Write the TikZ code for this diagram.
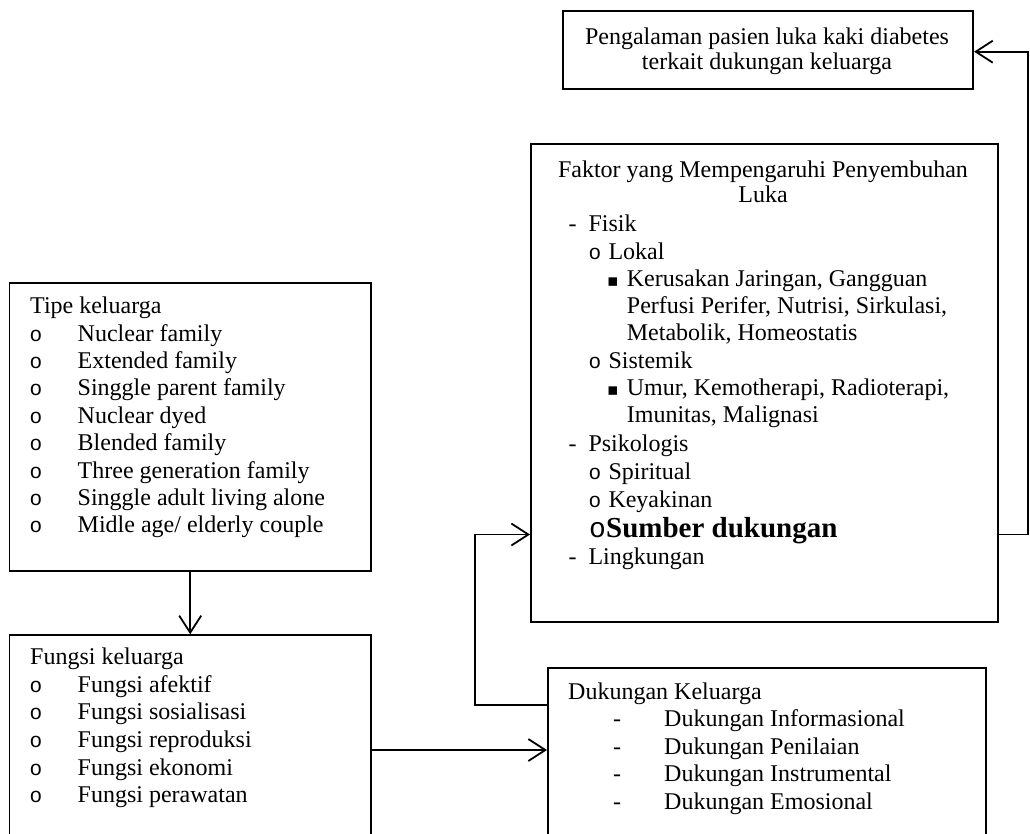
\documentclass[tikz,border=0pt]{standalone}
\usepackage{fontspec}
\setmainfont{Liberation Serif}[BoldFont={Liberation Serif Bold}]
\newfontfamily\monof{Liberation Mono}
\newfontfamily\symf{DejaVu Sans}
\usetikzlibrary{arrows.meta}
\begin{document}
\begin{tikzpicture}[x=1pt,y=-1pt,
  box/.style={draw, line width=1.8pt, inner sep=0pt, anchor=north west},
  txt/.style={inner sep=0pt, anchor=base west, font=\fontsize{24}{27}\selectfont},
  ctxt/.style={inner sep=0pt, anchor=base, font=\fontsize{24}{27}\selectfont},
  bul/.style={inner sep=0pt, anchor=base, font=\fontsize{21}{27}\monof},
  sbul/.style={inner sep=0pt, anchor=base, font=\fontsize{21}{27}\monof},
  sq/.style={inner sep=0pt, anchor=base, font=\fontsize{17}{20}\symf},
  conn/.style={line width=1.8pt},
  arr/.style={conn, -{Straight Barb[length=17pt,width=22pt,line width=1.8pt]}},
]
\useasboundingbox (0,0) rectangle (1030,833);
\clip (0,0) rectangle (1030,833);

% boxes
\node[box, minimum width=410pt, minimum height=77.7pt] (top) at (562.3,10) {};
\node[box, minimum width=466.7pt, minimum height=477.7pt] (faktor) at (530,143.3) {};
\node[box, minimum width=361.4pt, minimum height=288.2pt] (tipe) at (8.6,281.8) {};
\node[box, minimum width=361.4pt, minimum height=240pt] (fungsi) at (8.6,634.3) {};
\node[box, minimum width=438pt, minimum height=200pt] (dk) at (547,667) {};

% top box text
\node[ctxt] (t1) at (767,44) {Pengalaman pasien luka kaki diabetes};
\node[ctxt] (t2) at (767,69) {terkait dukungan keluarga};

% faktor text
\node[ctxt] (f0) at (763,177) {Faktor yang Mempengaruhi Penyembuhan};
\node[ctxt] (f1) at (763,202) {Luka};
\node[ctxt] (fd1) at (572.5,231) {-};
\node[txt] (fa) at (588.3,231) {Fisik};
\node[sbul] (fo1) at (595,259) {o};
\node[txt] (fb) at (608.3,259) {Lokal};
\node[sq] (fs1) at (613,286.7) {▪};
\node[txt] (fc) at (626.7,286.7) {Kerusakan Jaringan, Gangguan};
\node[txt] (fd) at (626.7,313.5) {Perfusi Perifer, Nutrisi, Sirkulasi,};
\node[txt] (fe) at (626.7,340.5) {Metabolik, Homeostatis};
\node[sbul] (fo2) at (595,368) {o};
\node[txt] (ff) at (608.3,368) {Sistemik};
\node[sq] (fs2) at (613,395) {▪};
\node[txt] (fg) at (626.7,395) {Umur, Kemotherapi, Radioterapi,};
\node[txt] (fh) at (626.7,422.5) {Imunitas, Malignasi};
\node[ctxt] (fd2) at (572.5,451) {-};
\node[txt] (fi) at (588.3,451) {Psikologis};
\node[sbul] (fo3) at (595,479) {o};
\node[txt] (fj) at (608.3,479) {Spiritual};
\node[sbul] (fo4) at (595,507) {o};
\node[txt] (fk) at (608.3,507) {Keyakinan};
\node[bul, font=\fontsize{28}{30}\monof] (fo5) at (597.5,537) {o};
\node[txt, font=\fontsize{29}{30}\selectfont\bfseries] (fl) at (606,537) {Sumber dukungan};
\node[ctxt] (fd3) at (572.5,564) {-};
\node[txt] (fm) at (588.3,564) {Lingkungan};

% tipe text
\node[txt] (tp0) at (30,313.6) {Tipe keluarga};
\foreach \t [count=\i] in {Nuclear family, Extended family, Singgle parent family, Nuclear dyed, Blended family, Three generation family, Singgle adult living alone, Midle age/ elderly couple} {
  \node[bul] (tb\i) at (36,{313.6+27.4*\i}) {o};
  \node[txt] (ti\i) at (77.5,{313.6+27.4*\i}) {\t};
}

% fungsi text
\node[txt] (fg0) at (30,664.6) {Fungsi keluarga};
\foreach \t [count=\i] in {Fungsi afektif, Fungsi sosialisasi, Fungsi reproduksi, Fungsi ekonomi, Fungsi perawatan} {
  \node[bul] (gb\i) at (36,{664.6+27.6*\i}) {o};
  \node[txt] (gi\i) at (77.5,{664.6+27.6*\i}) {\t};
}

% dukungan text
\node[txt] (dk0) at (568,699) {Dukungan Keluarga};
\foreach \t [count=\i] in {Dukungan Informasional, Dukungan Penilaian, Dukungan Instrumental, Dukungan Emosional} {
  \node[ctxt] (db\i) at (617,{699+27.5*\i}) {-};
  \node[txt] (di\i) at (664,{699+27.5*\i}) {\t};
}

% connectors
\coordinate (yA) at (0,51.7);
\coordinate (yB) at (0,534.5);
\coordinate (yC) at (0,705);
\coordinate (yD) at (0,750);
\coordinate (xR) at (1028.3,0);
\coordinate (xL) at (475,0);

\draw[arr] (tipe.south) -- (fungsi.north);
\draw[arr] (fungsi.east |- yD) -- (dk.west |- yD);
\draw[arr] (dk.west |- yC) -- (xL |- yC) -- (xL |- yB) -- (faktor.west |- yB);
\draw[arr] (faktor.east |- yB) -- (xR |- yB) -- (xR |- yA) -- (top.east |- yA);
\end{tikzpicture}
\end{document}
